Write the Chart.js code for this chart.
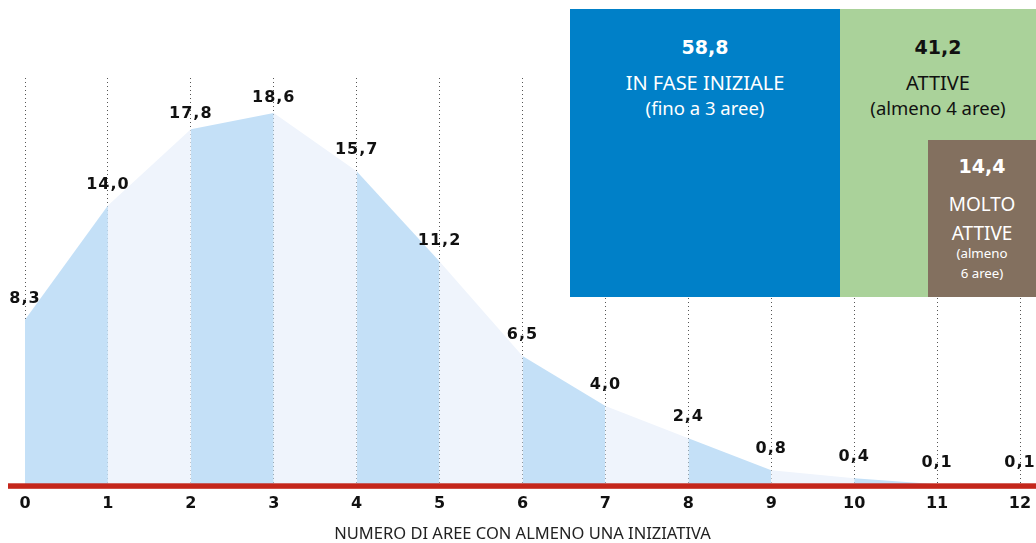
<!DOCTYPE html>
<html>
<head>
<meta charset="utf-8">
<script src="https://cdn.jsdelivr.net/npm/chart.js@4.4.1/dist/chart.umd.min.js"></script>
<style>
  html, body { margin: 0; padding: 0; background: #fff; }
  #wrap { position: relative; width: 1036px; height: 543px; overflow: hidden; }
  #chart { position: absolute; left: 0; top: 0; }
  .box { position: absolute; font-family: "Noto Sans", "Open Sans", sans-serif; color: #fff; }
  .box div { position: absolute; left: 0; right: 0; text-align: center; transform: translateY(-50%); white-space: nowrap; }
  .box .val { font-weight: bold; font-size: 19px; font-family: "DejaVu Sans", sans-serif; }
  .box .tit { font-size: 20px; }
  .box .note { font-size: 18.5px; }
  #boxInit { left: 570px; top: 9px; width: 270px; height: 288px; background: #0080c8; }
  #boxAttive { left: 840px; top: 9px; width: 196px; height: 288px; background: #aad29a; color: #111; }
  #boxMolto { left: 928px; top: 140px; width: 108px; height: 157px; background: #83705f; }
  #boxMolto .tit { font-size: 19px; }
  #boxMolto .note { font-size: 13.3px; line-height: 20px; }
</style>
</head>
<body>
<div id="wrap">
  <canvas id="chart" width="1036" height="543"></canvas>
  <div class="box" id="boxInit">
    <div class="val" style="top:38px"></div>
    <div class="tit" style="top:73px"></div>
    <div class="note" style="top:98px"></div>
  </div>
  <div class="box" id="boxAttive">
    <div class="val" style="top:38px"></div>
    <div class="tit" style="top:73px"></div>
    <div class="note" style="top:98px"></div>
  </div>
  <div class="box" id="boxMolto">
    <div class="val" style="top:26px"></div>
    <div class="tit" style="top:64px"></div>
    <div class="tit" style="top:93px"></div>
    <div class="note" style="top:123px"></div>
  </div>
</div>
<script>
// numero di aree (asse x) e quota di imprese per ciascuna
const aree = [0, 1, 2, 3, 4, 5, 6, 7, 8, 9, 10, 11, 12];
const quote = [8.3, 14.0, 17.8, 18.6, 15.7, 11.2, 6.5, 4.0, 2.4, 0.8, 0.4, 0.1, 0.1];

// riquadri di sintesi
const gruppiValori = [58.8, 41.2, 14.4];
const gruppiTitoli = [["IN FASE INIZIALE"], ["ATTIVE"], ["MOLTO", "ATTIVE"]];
const gruppiNote = ["(fino a 3 aree)", "(almeno 4 aree)", "(almeno<br>6 aree)"];

const titoloAsse = "NUMERO DI AREE CON ALMENO UNA INIZIATIVA";

const fmt = v => v.toFixed(1).replace(".", ",");

["boxInit", "boxAttive", "boxMolto"].forEach((id, i) => {
  const box = document.getElementById(id);
  box.querySelector(".val").textContent = fmt(gruppiValori[i]);
  box.querySelectorAll(".tit").forEach((el, j) => { el.textContent = gruppiTitoli[i][j]; });
  box.querySelector(".note").innerHTML = gruppiNote[i];
});

const bandDark = "#c4e0f7";
const bandLight = "#eff4fc";

// linea rossa di base
const baseLine = {
  id: "baseLine",
  afterDatasetsDraw(chart) {
    const ctx = chart.ctx;
    const y0 = chart.scales.y.getPixelForValue(0);
    ctx.save();
    ctx.fillStyle = "#c4261b";
    ctx.fillRect(8, y0 - 3, chart.width - 8, 5.5);
    ctx.restore();
  }
};

// etichette con i valori sopra ogni punto (più vicine al picco)
const valueLabels = {
  id: "valueLabels",
  afterDraw(chart) {
    const ctx = chart.ctx;
    const meta = chart.getDatasetMeta(0);
    ctx.save();
    ctx.font = "bold 16px 'DejaVu Sans', sans-serif";
    ctx.letterSpacing = "1px";
    ctx.fillStyle = "#111";
    ctx.textAlign = "center";
    ctx.textBaseline = "middle";
    meta.data.forEach((pt, i) => {
      const lift = quote[i] > 17 ? 15 : 21;
      ctx.fillText(fmt(quote[i]), pt.x, pt.y - lift);
    });
    ctx.restore();
  }
};

new Chart(document.getElementById("chart"), {
  type: "line",
  data: {
    datasets: [{
      data: aree.map((a, i) => ({ x: a, y: quote[i] })),
      fill: "origin",
      borderWidth: 0,
      pointRadius: 0,
      tension: 0,
      backgroundColor: bandLight,
      segment: {
        backgroundColor: c => (c.p0DataIndex % 2 === 0 ? bandDark : bandLight)
      }
    }]
  },
  options: {
    responsive: false,
    animation: false,
    layout: { padding: { top: 78, left: 25, right: 16, bottom: 0 } },
    plugins: { legend: { display: false }, tooltip: { enabled: false } },
    scales: {
      x: {
        type: "linear",
        min: 0,
        max: 12,
        z: 1,
        // i margini li decide il layout, non le etichette
        afterFit(scale) {
          scale.paddingLeft = 0;
          scale.paddingRight = 0;
        },
        ticks: {
          stepSize: 1,
          color: "#111",
          padding: 8,
          font: { family: "'DejaVu Sans', sans-serif", size: 16, weight: "bold" }
        },
        grid: { color: "#555", lineWidth: 1, drawTicks: false },
        border: { display: false, dash: [1, 3] },
        title: {
          display: true,
          text: titoloAsse,
          color: "#222",
          padding: { top: 5, bottom: 0 },
          font: { family: "'Noto Sans', sans-serif", size: 16.5, lineHeight: 1 }
        }
      },
      y: { display: false, min: 0, max: 20.35 }
    }
  },
  plugins: [baseLine, valueLabels]
});
</script>
</body>
</html>
